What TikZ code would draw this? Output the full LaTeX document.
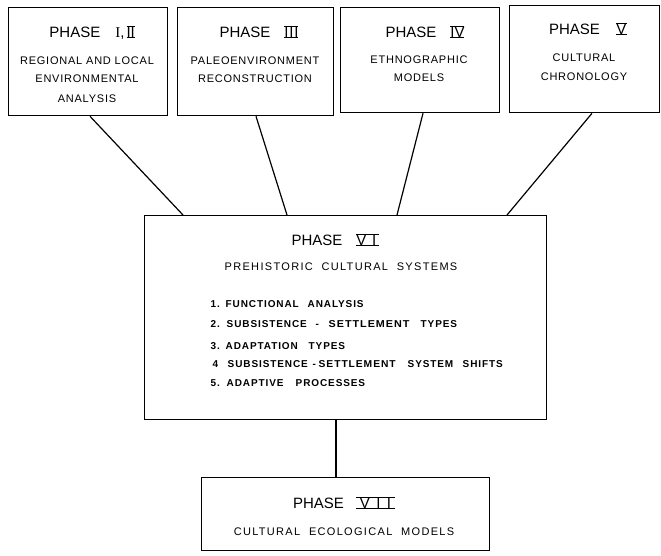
\documentclass[tikz,border=0pt]{standalone}
\usepackage{fontspec}
\usepackage{graphicx}
\setmainfont{Liberation Sans}
\newfontfamily\subfont[LetterSpace=7]{Liberation Sans}
\newfontfamily\midfont[LetterSpace=12]{Liberation Sans}
\newfontfamily\lstfont[LetterSpace=9]{Liberation Sans}
\newfontfamily\serfont{Liberation Serif}
% roman numeral with bars: #1 width, #2 letters
\newcommand\rnum[2]{\makebox[#1][s]{#2}\llap{\rule[-0.7pt]{#1}{1.2pt}}\llap{\rule[10.0pt]{#1}{1.2pt}}}
% word placed at an offset from the start of the line
\newcommand\wat[2]{\rlap{\hspace{#1}#2}}
\begin{document}
\begin{tikzpicture}[x=1pt,y=-1pt,
  box/.style={draw,line width=1.3pt,inner sep=0pt,anchor=north west},
  link/.style={line width=1.2pt},
  head/.style={inner sep=0pt,text height=10.7pt,text depth=0pt,font=\fontsize{15}{18}\selectfont},
  sub/.style={inner sep=0pt,text height=7.9pt,text depth=0pt,font=\fontsize{11}{13}\subfont},
  mid/.style={inner sep=0pt,text height=7.9pt,text depth=0pt,font=\fontsize{11}{13}\midfont},
  item/.style={inner sep=0pt,text height=7.2pt,text depth=0pt,anchor=west,font=\fontsize{10}{12}\lstfont\bfseries}]
\useasboundingbox (0,0) rectangle (661,555);
% boxes
\node[box,minimum width=159pt,minimum height=108pt] (b1) at (8,7) {};
\node[box,minimum width=156pt,minimum height=108pt] (b2) at (177,7) {};
\node[box,minimum width=159pt,minimum height=105pt] (b3) at (340,7) {};
\node[box,minimum width=150pt,minimum height=107pt] (b4) at (509,5) {};
\node[box,minimum width=402pt,minimum height=204pt] (m) at (144,215) {};
\node[box,minimum width=288pt,minimum height=73pt] (b7) at (201,477) {};
% connectors
\draw[link] ([xshift=82pt]b1.south west) -- ([xshift=39pt]m.north west);
\draw[link] ([xshift=79pt]b2.south west) -- ([xshift=143pt]m.north west);
\draw[link] ([xshift=83pt]b3.south west) -- ([xshift=253pt]m.north west);
\draw[link] ([xshift=83pt]b4.south west) -- ([xshift=363pt]m.north west);
\draw[link] ([xshift=192pt]m.south west) -- ([xshift=135pt]b7.north west);
% texts box I,II
\node[head] (h1) at (92,32) {PHASE\hspace{15pt}{\serfont I},\hspace{2pt}\rnum{8pt}{I\hfill I}};
\node[sub] (t1a) at (87,61) {REGIONAL AND LOCAL};
\node[sub] (t1b) at (87,79) {ENVIRONMENTAL};
\node[sub] (t1c) at (87,99) {ANALYSIS};
% box III
\node[head] (h2) at (259,32) {PHASE\hspace{14pt}\rnum{14pt}{I\hfill I\hfill I}};
\node[sub] (t2a) at (255,61) {PALEOENVIRONMENT};
\node[sub] (t2b) at (255,79) {RECONSTRUCTION};
% box IV
\node[head] (h3) at (425,32) {PHASE\hspace{14pt}\rnum{14pt}{I\hfill V}};
\node[sub] (t3a) at (419,60) {ETHNOGRAPHIC};
\node[sub] (t3b) at (419,78) {MODELS};
% box V
\node[head] (h4) at (588,29) {PHASE\hspace{16pt}\rnum{11pt}{\hfill V\hfill}};
\node[sub] (t4a) at (584,58) {CULTURAL};
\node[sub] (t4b) at (584,77) {CHRONOLOGY};
% main box
\node[head] (hm) at (335.5,240) {PHASE\hspace{14pt}\rnum{23pt}{V\hfill I\hspace{3pt}}};
\node[mid] (tm) at (341,267) {PREHISTORIC\ \ CULTURAL\ \ SYSTEMS};
\node[item] (i1) at (210,303.5) {\wat{0pt}{1.}\wat{15pt}{FUNCTIONAL}\wat{97pt}{ANALYSIS}\hspace{155pt}};
\node[item] (i2) at (210,324) {\wat{0pt}{2.}\wat{16pt}{SUBSISTENCE}\wat{105pt}{-}\wat{118pt}{\scalebox{1.08}[1]{SETTLEMENT}}\wat{210pt}{TYPES}\hspace{248pt}};
\node[item] (i3) at (210,345.5) {\wat{0pt}{3.}\wat{15pt}{ADAPTATION}\wat{98pt}{TYPES}\hspace{134pt}};
\node[item] (i4) at (210,364) {\wat{2pt}{4}\wat{17pt}{SUBSISTENCE}\wat{102pt}{-}\wat{108pt}{\scalebox{1.03}[1]{SETTLEMENT}}\wat{197pt}{SYSTEM}\wat{252pt}{SHIFTS}\hspace{290pt}};
\node[item] (i5) at (210,383) {\wat{0pt}{5.}\wat{16pt}{ADAPTIVE}\wat{85pt}{PROCESSES}\hspace{153pt}};
% box VII
\node[head] (h7) at (344,503) {PHASE\hspace{12pt}\rnum{39pt}{\hspace{4pt}V\hfill I\hfill I\hspace{4pt}}};
\node[mid] (t7) at (344,532) {CULTURAL\ \ ECOLOGICAL\ \ MODELS};
\end{tikzpicture}
\end{document}
